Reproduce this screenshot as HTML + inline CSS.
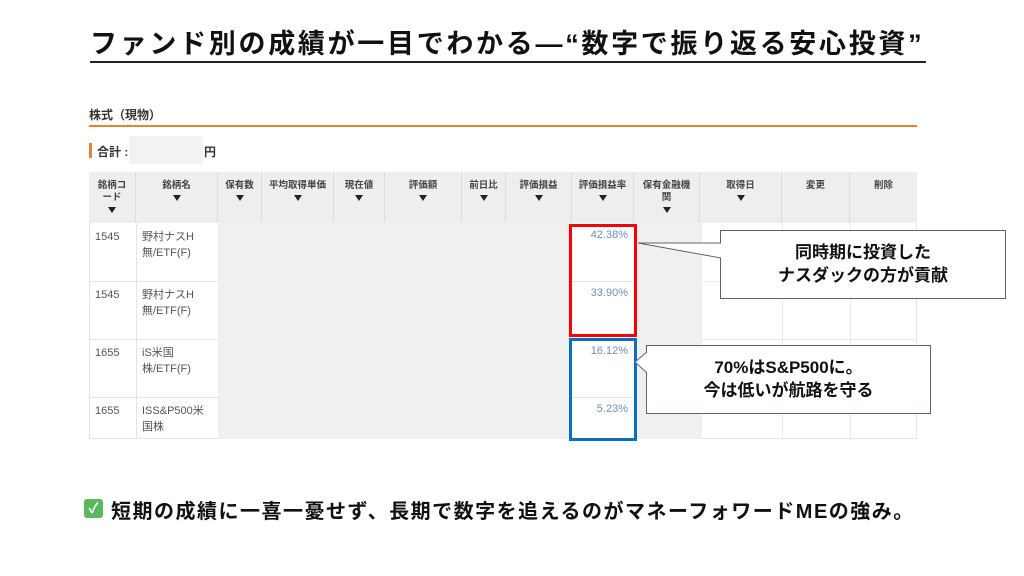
<!DOCTYPE html>
<html><head><meta charset="utf-8"><style>
body{margin:0;width:1024px;height:576px;background:#fff;position:relative;overflow:hidden;font-family:"Liberation Sans","Noto Sans CJK JP",sans-serif}
.a{position:absolute}
.title{left:90px;top:28px;width:836px;font-size:27px;font-weight:bold;color:#111;white-space:nowrap;letter-spacing:2.7px;border-bottom:2px solid #222;line-height:32px;padding-bottom:1px}
.h{background:#eeeeee;border-right:1px solid #dcdcdc;top:172px;height:51px;font-size:9.5px;font-weight:bold;color:#444;text-align:center;line-height:12px;padding-top:8px;box-sizing:border-box}
.tri{display:inline-block;width:0;height:0;border-left:4px solid transparent;border-right:4px solid transparent;border-top:6px solid #222;margin-top:3px}
.c{font-size:11px;color:#555;line-height:16px}
.p{font-size:11px;color:#6f8fb8;text-align:right;width:60px}
.cal{background:#fff;border:1px solid #5a6474;font-size:17px;font-weight:bold;color:#111;text-align:center;line-height:23px;box-sizing:border-box}
</style></head><body>
<div class="a title">ファンド別の成績が一目でわかる―“数字で振り返る安心投資”</div>
<div class="a" style="left:89px;top:106px;font-size:12px;font-weight:bold;color:#333">株式（現物）</div>
<div class="a" style="left:89px;top:125px;width:828px;height:2px;background:#e8842a"></div>
<div class="a" style="left:89px;top:143px;width:3px;height:15px;background:#e8842a"></div>
<div class="a" style="left:97px;top:143px;font-size:12px;font-weight:bold;color:#333">合計 :</div>
<div class="a" style="left:129px;top:136px;width:74px;height:28px;background:#f2f2f2"></div>
<div class="a" style="left:204px;top:143px;font-size:12px;font-weight:bold;color:#333">円</div>
<div class="a" style="left:89px;top:223px;width:828px;height:216px;background:#fff;border-left:1px solid #e4e4e4;border-right:1px solid #e4e4e4;border-bottom:1px solid #e4e4e4;box-sizing:border-box"></div>
<div class="a" style="left:218px;top:223px;width:354px;height:216px;background:#f0f0f0"></div>
<div class="a" style="left:634px;top:223px;width:68px;height:216px;background:#f0f0f0"></div>
<div class="a" style="left:136px;top:223px;width:1px;height:216px;background:#e4e4e4"></div>
<div class="a" style="left:782px;top:223px;width:1px;height:216px;background:#e8e8e8"></div>
<div class="a" style="left:850px;top:223px;width:1px;height:216px;background:#e8e8e8"></div>
<div class="a" style="left:89px;top:281px;width:129px;height:1px;background:#e4e4e4"></div>
<div class="a" style="left:89px;top:339px;width:129px;height:1px;background:#e4e4e4"></div>
<div class="a" style="left:89px;top:397px;width:129px;height:1px;background:#e4e4e4"></div>
<div class="a" style="left:572px;top:281px;width:62px;height:1px;background:#e4e4e4"></div>
<div class="a" style="left:572px;top:397px;width:62px;height:1px;background:#e4e4e4"></div>
<div class="a" style="left:702px;top:281px;width:215px;height:1px;background:#e8e8e8"></div>
<div class="a" style="left:702px;top:339px;width:215px;height:1px;background:#e8e8e8"></div>
<div class="a" style="left:702px;top:397px;width:215px;height:1px;background:#e8e8e8"></div>
<div class="a h" style="left:89px;width:47px">銘柄コ<br>ード<br><span class="tri"></span></div>
<div class="a h" style="left:136px;width:82px">銘柄名<br><span class="tri"></span></div>
<div class="a h" style="left:218px;width:44px">保有数<br><span class="tri"></span></div>
<div class="a h" style="left:262px;width:72px">平均取得単価<br><span class="tri"></span></div>
<div class="a h" style="left:334px;width:51px">現在値<br><span class="tri"></span></div>
<div class="a h" style="left:385px;width:77px">評価額<br><span class="tri"></span></div>
<div class="a h" style="left:462px;width:44px">前日比<br><span class="tri"></span></div>
<div class="a h" style="left:506px;width:66px">評価損益<br><span class="tri"></span></div>
<div class="a h" style="left:572px;width:62px">評価損益率<br><span class="tri"></span></div>
<div class="a h" style="left:634px;width:66px">保有金融機<br>関<br><span class="tri"></span></div>
<div class="a h" style="left:700px;width:82px">取得日<br><span class="tri"></span></div>
<div class="a h" style="left:782px;width:68px">変更</div>
<div class="a h" style="left:850px;width:67px;border-right:none">削除</div>
<div class="a c" style="left:95px;top:229px">1545</div><div class="a c" style="left:142px;top:229px">野村ナスH<br>無/ETF(F)</div>
<div class="a c" style="left:95px;top:287px">1545</div><div class="a c" style="left:142px;top:287px">野村ナスH<br>無/ETF(F)</div>
<div class="a c" style="left:95px;top:345px">1655</div><div class="a c" style="left:142px;top:345px">iS米国<br>株/ETF(F)</div>
<div class="a c" style="left:95px;top:403px">1655</div><div class="a c" style="left:142px;top:403px">ISS&amp;P500米<br>国株</div>
<div class="a p" style="left:568px;top:229px">42.38%</div>
<div class="a p" style="left:568px;top:287px">33.90%</div>
<div class="a p" style="left:568px;top:345px">16.12%</div>
<div class="a p" style="left:568px;top:403px">5.23%</div>
<div class="a" style="left:569px;top:224px;width:68px;height:113px;border:3px solid #f00;box-sizing:border-box"></div>
<div class="a" style="left:569px;top:338px;width:68px;height:103px;border:3px solid #0a6fc2;box-sizing:border-box"></div>
<div class="a cal" style="left:720px;top:230px;width:286px;height:69px;padding-top:10px">同時期に投資した<br>ナスダックの方が貢献</div>
<div class="a cal" style="left:646px;top:345px;width:285px;height:69px;padding-top:10px">70%はS&amp;P500に。<br>今は低いが航路を守る</div>
<svg class="a" style="left:0;top:0" width="1024" height="576">
<polygon points="721,243 638,243 721,258" fill="#fff"/>
<polyline points="721,243 638,243 721,258" fill="none" stroke="#5a6474" stroke-width="1"/>
<polygon points="647,352 635,362 647,373" fill="#fff"/>
<polyline points="647,352 635,362 647,373" fill="none" stroke="#5a6474" stroke-width="1"/>
</svg>
<div class="a" style="left:84px;top:499px;width:19px;height:19px;background:#5cb85c;border-radius:3px;color:#fff;font-size:14px;line-height:19px;text-align:center;font-weight:bold">✓</div>
<div class="a" style="left:111px;top:495px;font-size:20px;font-weight:bold;color:#111;white-space:nowrap;letter-spacing:1.5px">短期の成績に一喜一憂せず、長期で数字を追えるのがマネーフォワードMEの強み。</div>
</body></html>
